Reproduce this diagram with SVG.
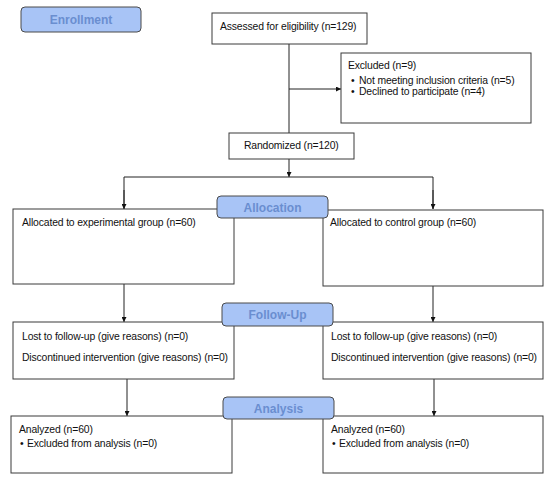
<svg xmlns="http://www.w3.org/2000/svg" width="550" height="479" viewBox="0 0 550 479">
<style>
.box{fill:#fff;stroke:#3a3a3a;stroke-width:1}
.lab{fill:#a8c4f6;stroke:#4a4a4a;stroke-width:1}
.t{font-family:"Liberation Sans",Arial,sans-serif;font-size:10.4px;letter-spacing:-0.15px;fill:#111}
.lt{font-family:"Liberation Sans",Arial,sans-serif;font-size:12px;font-weight:bold;fill:#6a8ed0;text-anchor:middle}
.ln{stroke:#222;stroke-width:1;fill:none}
</style>
<defs>
<marker id="ah" viewBox="0 0 10 10" refX="10" refY="5" markerWidth="5" markerHeight="5" orient="auto" markerUnits="userSpaceOnUse">
<path d="M0,0 L10,5 L0,10 z" fill="#111"/>
</marker>
</defs>
<g id="connectors">
<path class="ln" d="M289,44 V133"/>
<path class="ln" d="M289,89 H341" marker-end="url(#ah)"/>
<path class="ln" d="M289,159 V177" marker-end="url(#ah)"/>
<path class="ln" d="M124,209 V177 H433 V209"/>
<path class="ln" d="M124,190 V209" marker-end="url(#ah)"/>
<path class="ln" d="M433,190 V209" marker-end="url(#ah)"/>
<path class="ln" d="M124,284 V322" marker-end="url(#ah)"/>
<path class="ln" d="M433,286 V322" marker-end="url(#ah)"/>
<path class="ln" d="M127,379 V416" marker-end="url(#ah)"/>
<path class="ln" d="M434,379 V416" marker-end="url(#ah)"/>
</g>
<g id="enrollment">
<rect class="lab" x="21" y="7" width="120" height="25" rx="4"/>
<text class="lt" x="81" y="24">Enrollment</text>
</g>
<g id="assessed">
<rect class="box" x="212" y="13" width="155" height="31"/>
<text class="t" x="220" y="30">Assessed for eligibility (n=129)</text>
</g>
<g id="excluded">
<rect class="box" x="341" y="53" width="190" height="70"/>
<text class="t" x="348" y="69">Excluded (n=9)</text>
<text class="t" x="351" y="84">•</text>
<text class="t" x="359" y="84">Not meeting inclusion criteria (n=5)</text>
<text class="t" x="351" y="95">•</text>
<text class="t" x="359" y="95">Declined to participate (n=4)</text>
</g>
<g id="randomized">
<rect class="box" x="229" y="133" width="125" height="26"/>
<text class="t" x="244" y="149">Randomized (n=120)</text>
</g>
<g id="alloc-exp">
<rect class="box" x="13" y="209" width="221" height="75"/>
<text class="t" x="22" y="226">Allocated to experimental group (n=60)</text>
</g>
<g id="alloc-ctrl">
<rect class="box" x="323" y="210" width="220" height="76"/>
<text class="t" x="330" y="226">Allocated to control group (n=60)</text>
</g>
<g id="allocation">
<rect class="lab" x="217" y="196" width="111" height="22" rx="4"/>
<text class="lt" x="272.5" y="211.5">Allocation</text>
</g>
<g id="follow-exp">
<rect class="box" x="13" y="322" width="221" height="57"/>
<text class="t" x="22" y="340">Lost to follow-up (give reasons) (n=0)</text>
<text class="t" x="22" y="361">Discontinued intervention (give reasons) (n=0)</text>
</g>
<g id="follow-ctrl">
<rect class="box" x="323" y="322" width="220" height="57"/>
<text class="t" x="331" y="340">Lost to follow-up (give reasons) (n=0)</text>
<text class="t" x="331" y="361">Discontinued intervention (give reasons) (n=0)</text>
</g>
<g id="followup">
<rect class="lab" x="222" y="303" width="111" height="23" rx="4"/>
<text class="lt" x="277.5" y="319">Follow-Up</text>
</g>
<g id="analyzed-exp">
<rect class="box" x="11" y="416" width="221" height="57"/>
<text class="t" x="19" y="433">Analyzed (n=60)</text>
<text class="t" x="20" y="447">•</text>
<text class="t" x="27" y="447">Excluded from analysis (n=0)</text>
</g>
<g id="analyzed-ctrl">
<rect class="box" x="323" y="416" width="220" height="57"/>
<text class="t" x="331" y="433">Analyzed (n=60)</text>
<text class="t" x="332" y="447">•</text>
<text class="t" x="339" y="447">Excluded from analysis (n=0)</text>
</g>
<g id="analysis">
<rect class="lab" x="223" y="397" width="111" height="22" rx="4"/>
<text class="lt" x="278.5" y="412.5">Analysis</text>
</g>
</svg>
